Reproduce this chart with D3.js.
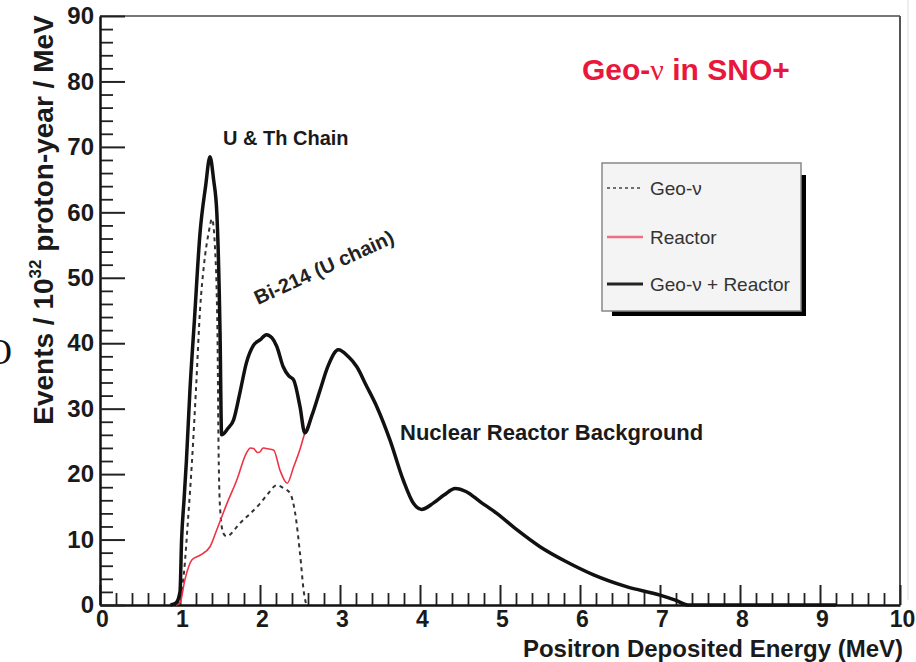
<!DOCTYPE html>
<html>
<head>
<meta charset="utf-8">
<script src="https://cdn.jsdelivr.net/npm/d3@7"></script>
<style>
  html, body { margin: 0; padding: 0; background: #fff; }
  svg { display: block; font-family: "Liberation Sans", Arial, sans-serif; }
</style>
</head>
<body>
<div id="chart"></div>
<script>
// values (energy in MeV, events / 10^32 proton-year / MeV)
const totalEnergy = [0.88, 0.95, 1.0, 1.02, 1.05, 1.08, 1.125, 1.18, 1.25, 1.32, 1.375, 1.42, 1.46, 1.5, 1.52, 1.6, 1.67, 1.75, 1.83, 1.92, 2.0, 2.08, 2.15, 2.21, 2.29, 2.36, 2.42, 2.5, 2.56, 2.65, 2.75, 2.85, 2.98, 3.1, 3.21, 3.33, 3.46, 3.625, 3.79, 3.92, 4.02, 4.17, 4.3, 4.44, 4.58, 4.75, 4.96, 5.21, 5.5, 5.83, 6.17, 6.58, 7.0, 7.2, 7.35, 7.5, 8.0, 8.5, 9.2];
const totalEvents = [0, 0.3, 2, 10, 16, 22, 33, 43.5, 56.8, 64, 68.5, 65, 60, 42, 26, 27, 28.3, 32.5, 37, 39.7, 40.5, 41.3, 40.8, 39.5, 36.4, 35, 34.4, 30.3, 26.3, 29, 32.8, 36.5, 39, 38, 36.4, 33.5, 30.3, 25.2, 19.1, 15.5, 14.6, 15.6, 16.8, 17.8, 17.3, 15.8, 14.0, 11.5, 8.9, 6.6, 4.6, 2.8, 1.5, 0.7, 0, 0, 0, 0, 0];

const reactorEnergy = [0.95, 1.0, 1.06, 1.15, 1.25, 1.375, 1.46, 1.58, 1.71, 1.83, 1.88, 1.92, 1.97, 2.0, 2.04, 2.08, 2.17, 2.25, 2.34, 2.42, 2.5, 2.56, 2.65, 2.75, 2.85, 2.98, 3.1, 3.21, 3.33, 3.46, 3.625, 3.79, 3.92, 4.02, 4.17, 4.3, 4.44, 4.58, 4.75, 4.96, 5.21, 5.5, 5.83, 6.17, 6.58, 7.0, 7.2, 7.35, 7.5, 8.0, 8.5, 9.2];
const reactorEvents = [0, 0.3, 3.8, 6.9, 7.6, 8.9, 11.5, 15.3, 19.1, 23.2, 24, 23.9, 23.3, 23.4, 24, 23.9, 23.7, 20.6, 18.6, 21.1, 23.8, 26.3, 29, 32.8, 36.5, 39, 38, 36.4, 33.5, 30.3, 25.2, 19.1, 15.5, 14.6, 15.6, 16.8, 17.8, 17.3, 15.8, 14.0, 11.5, 8.9, 6.6, 4.6, 2.8, 1.5, 0.7, 0, 0, 0, 0, 0];

const geoEnergy = [0.95, 1.0, 1.05, 1.1, 1.15, 1.2, 1.25, 1.3, 1.36, 1.4, 1.44, 1.46, 1.47, 1.48, 1.5, 1.54, 1.58, 1.75, 2.0, 2.1, 2.21, 2.3, 2.375, 2.44, 2.5, 2.55, 2.58];
const geoEvents = [0, 1, 5, 13, 22, 33, 45, 52, 57, 59, 54, 47, 40, 26, 15, 11, 10.5, 12.5, 15.5, 17, 18.3, 17.8, 17.1, 14, 7.9, 1.8, 0];

const legendLabels = ["Geo-\u03bd", "Reactor", "Geo-\u03bd + Reactor"];
const xTicks = [0, 1, 2, 3, 4, 5, 6, 7, 8, 9, 10];
const yTicks = [0, 10, 20, 30, 40, 50, 60, 70, 80, 90];

const width = 916, height = 662;
const plotLeft = 100, plotRight = 900, plotTop = 16, plotBottom = 605;

const svg = d3.select("#chart").append("svg")
  .attr("width", width)
  .attr("height", height);

svg.append("rect").attr("width", width).attr("height", height).attr("fill", "#fff");

const x = d3.scaleLinear().domain([0, 10]).range([plotLeft, plotRight]);
const y = d3.scaleLinear().domain([0, 90]).range([plotBottom, plotTop]);

// frame
svg.append("line").attr("x1", plotLeft).attr("x2", plotRight).attr("y1", plotTop).attr("y2", plotTop)
  .attr("stroke", "#777").attr("stroke-width", 2);
svg.append("line").attr("x1", plotRight).attr("x2", plotRight).attr("y1", plotTop).attr("y2", plotBottom)
  .attr("stroke", "#555").attr("stroke-width", 2);
svg.append("line").attr("x1", 908).attr("x2", 908).attr("y1", 0).attr("y2", 600)
  .attr("stroke", "#ddd").attr("stroke-width", 1);

// minor ticks
const xMinor = d3.range(0, 10.001, 0.2).filter(v => Math.abs(v - Math.round(v)) > 0.01);
svg.append("g").attr("transform", `translate(0,${plotBottom})`)
  .call(d3.axisBottom(x).tickValues(xMinor).tickSizeInner(-12).tickSizeOuter(0).tickFormat(""))
  .call(g => g.select(".domain").remove())
  .selectAll("line").attr("stroke", "#222").attr("stroke-width", 1.8);

const yMinor = d3.range(0, 90.001, 2).filter(v => v % 10 !== 0);
svg.append("g").attr("transform", `translate(${plotLeft},0)`)
  .call(d3.axisLeft(y).tickValues(yMinor).tickSizeInner(-13).tickSizeOuter(0).tickFormat(""))
  .call(g => g.select(".domain").remove())
  .selectAll("line").attr("stroke", "#222").attr("stroke-width", 1.8);

// major ticks + labels
const xAxis = svg.append("g").attr("transform", `translate(0,${plotBottom})`)
  .call(d3.axisBottom(x).tickValues(xTicks).tickSizeInner(-20).tickSizeOuter(0).tickPadding(6).tickFormat(d3.format("d")));
xAxis.select(".domain").attr("stroke", "#111").attr("stroke-width", 2.5);
xAxis.selectAll("line").attr("stroke", "#222").attr("stroke-width", 2);
xAxis.selectAll("text").attr("font-size", 23).attr("font-weight", "bold").attr("fill", "#1a1a1a")
  .attr("dx", 2);

const yAxis = svg.append("g").attr("transform", `translate(${plotLeft},0)`)
  .call(d3.axisLeft(y).tickValues(yTicks).tickSizeInner(-25).tickSizeOuter(0).tickPadding(6).tickFormat(d3.format("d")));
yAxis.select(".domain").attr("stroke", "#111").attr("stroke-width", 2.5);
yAxis.selectAll("line").attr("stroke", "#222").attr("stroke-width", 2);
yAxis.selectAll("text").attr("font-size", 24).attr("font-weight", "bold").attr("fill", "#1a1a1a");

// curves
const line = d3.line().x(d => x(d[0])).y(d => y(d[1])).curve(d3.curveMonotoneX);

svg.append("path")
  .attr("d", line(d3.zip(geoEnergy, geoEvents)))
  .attr("fill", "none").attr("stroke", "#333").attr("stroke-width", 2)
  .attr("stroke-dasharray", "4,4");

svg.append("path")
  .attr("d", line(d3.zip(reactorEnergy, reactorEvents)))
  .attr("fill", "none").attr("stroke", "#ee3344").attr("stroke-width", 1.6);

svg.append("path")
  .attr("d", line(d3.zip(totalEnergy, totalEvents)))
  .attr("fill", "none").attr("stroke", "#111").attr("stroke-width", 3.5)
  .attr("stroke-linejoin", "round");

// axis titles
svg.append("text")
  .attr("x", 903).attr("y", 657)
  .attr("text-anchor", "end")
  .attr("font-size", 24).attr("font-weight", "bold").attr("fill", "#1a1a1a")
  .text("Positron Deposited Energy (MeV)");

const yTitle = svg.append("text")
  .attr("transform", "translate(53,220) rotate(-90)")
  .attr("text-anchor", "middle")
  .attr("font-size", 28).attr("font-weight", "bold").attr("fill", "#1a1a1a");
yTitle.append("tspan").text("Events / 10");
yTitle.append("tspan").attr("font-size", 17).attr("dy", -12).text("32");
yTitle.append("tspan").attr("dy", 12).text(" proton-year / MeV");

// glyph partly cut by the left edge in the reference
svg.append("text")
  .attr("x", 12).attr("y", 364)
  .attr("text-anchor", "end")
  .attr("font-family", "Liberation Serif, serif")
  .attr("font-size", 36).attr("fill", "#111")
  .text("O");

// annotations
const title = svg.append("text")
  .attr("x", 582).attr("y", 80)
  .attr("font-size", 30).attr("font-weight", "bold").attr("fill", "#e8173b");
title.append("tspan").text("Geo-");
title.append("tspan").attr("font-weight", "normal").attr("font-family", "Liberation Serif, serif").text("\u03bd");
title.append("tspan").text(" in SNO+");

svg.append("text")
  .attr("x", 223).attr("y", 145)
  .attr("font-size", 20).attr("font-weight", "bold").attr("fill", "#1a1a1a")
  .text("U & Th Chain");

svg.append("text")
  .attr("transform", "translate(258,305) rotate(-24.5)")
  .attr("font-size", 20).attr("font-weight", "bold").attr("fill", "#222")
  .text("Bi-214 (U chain)");

svg.append("text")
  .attr("x", 400).attr("y", 440)
  .attr("font-size", 22).attr("font-weight", "bold").attr("fill", "#1a1a1a")
  .text("Nuclear Reactor Background");

// legend
const lg = svg.append("g");
lg.append("rect").attr("x", 612).attr("y", 175).attr("width", 194).attr("height", 141).attr("fill", "#000");
lg.append("rect").attr("x", 602).attr("y", 163).attr("width", 199).attr("height", 148)
  .attr("fill", "#f4f4f4").attr("stroke", "#888").attr("stroke-width", 1.5);

const clip = svg.append("clipPath").attr("id", "legclip");
clip.append("rect").attr("x", 602).attr("y", 163).attr("width", 199).attr("height", 148);

const legendStyles = [
  { stroke: "#444", width: 1.5, dash: "3,3" },
  { stroke: "#f07080", width: 2.5, dash: null },
  { stroke: "#222", width: 3, dash: null }
];
const legendY = [188, 237, 284];

legendLabels.forEach((label, i) => {
  const row = lg.append("g").attr("clip-path", "url(#legclip)");
  row.append("line")
    .attr("x1", 607).attr("x2", 643).attr("y1", legendY[i]).attr("y2", legendY[i])
    .attr("stroke", legendStyles[i].stroke).attr("stroke-width", legendStyles[i].width)
    .attr("stroke-dasharray", legendStyles[i].dash);
  row.append("text")
    .attr("x", 650).attr("y", legendY[i] + 7)
    .attr("font-size", 19).attr("fill", "#333")
    .text(label);
});
</script>
</body>
</html>
